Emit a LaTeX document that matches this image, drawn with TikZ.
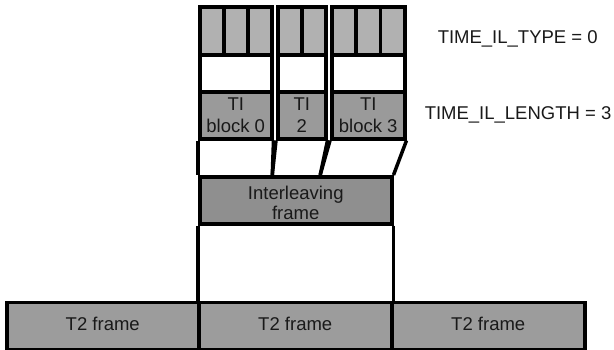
\documentclass[tikz,border=0pt]{standalone}
\usepackage{fontspec}
\setmainfont{Liberation Sans}
\usetikzlibrary{calc}
\definecolor{cellgray}{HTML}{B1B1B1}
\definecolor{tigray}{HTML}{9A9A9A}
\definecolor{ifgray}{HTML}{8F8F8F}
\definecolor{frgray}{HTML}{9C9C9C}
\begin{document}
\begin{tikzpicture}[x=1pt,y=-1pt,line width=3.5pt,
  box/.style={draw=black,inner sep=0pt,anchor=north west,line join=miter},
  cellbox/.style={box,fill=cellgray,minimum height=48pt},
  tibox/.style={box,fill=tigray,minimum height=47pt},
  colbox/.style={box,fill=white,minimum height=132pt},
  framebox/.style={box,fill=frgray,minimum height=47pt},
  lbl/.style={font=\fontsize{18.5}{22}\selectfont,align=center,inner sep=0pt,text=black!90},
  conn/.style={draw=black,line cap=butt}]
\useasboundingbox (0,0) rectangle (614,349);
% columns
\node[colbox,minimum width=72pt] (col0) at (198,5) {};
\node[colbox,minimum width=48pt] (col2) at (276,5) {};
\node[colbox,minimum width=73pt] (col3) at (330,5) {};
% top cells
\node[cellbox,minimum width=24pt] (c01) at (198,5) {};
\node[cellbox,minimum width=24pt] (c02) at (222,5) {};
\node[cellbox,minimum width=24pt] (c03) at (246,5) {};
\node[cellbox,minimum width=24pt] (c21) at (276,5) {};
\node[cellbox,minimum width=24pt] (c22) at (300,5) {};
\node[cellbox,minimum width=24.33pt] (c31) at (330,5) {};
\node[cellbox,minimum width=24.33pt] (c32) at (354.33,5) {};
\node[cellbox,minimum width=24.33pt] (c33) at (378.67,5) {};
% TI blocks
\node[tibox,minimum width=72pt] (ti0) at (198,90) {};
\node[tibox,minimum width=48pt] (ti2) at (276,90) {};
\node[tibox,minimum width=73pt] (ti3) at (330,90) {};
\node[lbl] (ti0l) at (ti0.center) {TI\\block 0};
\node[lbl] (ti2l) at (ti2.center) {TI\\2};
\node[lbl] (ti3l) at (ti3.center) {TI\\block 3};
% interleaving frame
\node[box,fill=ifgray,minimum width=192pt,minimum height=47pt] (IF) at (198,175) {};
\node[lbl,font=\fontsize{18.5}{20}\selectfont] (IFl) at ($(IF.center)+(0,3)$) {Interleaving\\frame};
\coordinate (m1) at ($(IF.north west)!0.38!(IF.north east)$);
\coordinate (m2) at ($(IF.north west)!0.625!(IF.north east)$);
% T2 frames
\node[framebox,minimum width=192pt] (t2a) at (5,300.5) {};
\node[framebox,minimum width=193pt] (t2b) at (197,300.5) {};
\node[framebox,minimum width=193pt] (t2c) at (390,300.5) {};
\node[lbl] (t2al) at ($(t2a.center)+(0,-1.5)$) {T2 frame};
\node[lbl] (t2bl) at ($(t2b.center)+(0,-1.5)$) {T2 frame};
\node[lbl] (t2cl) at ($(t2c.center)+(0,-1.5)$) {T2 frame};
% connectors
\draw[conn] (ti0.south west) -- (IF.north west);
\draw[conn] (ti0.south east) -- (m1);
\draw[conn] (ti2.south west) -- (m1);
\draw[conn] (ti2.south east) -- (m2);
\draw[conn] (ti3.south west) -- (m2);
\draw[conn] (ti3.south east) -- (IF.north east);
\draw[conn] (IF.south west) -- (t2b.north west -| IF.south west);
\draw[conn] (IF.south east) -- (t2b.north east);
% parameter labels
\node[lbl,anchor=base west] (ptype) at (436,43) {TIME\_IL\_TYPE = 0};
\node[lbl,anchor=base west] (plen) at (423,119) {TIME\_IL\_LENGTH = 3};
\end{tikzpicture}
\end{document}
